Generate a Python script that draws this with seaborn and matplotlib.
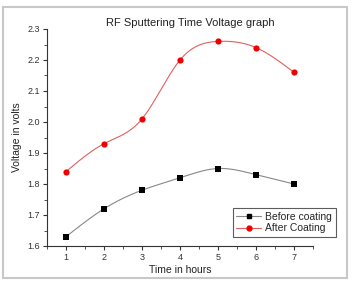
import numpy as np
import pandas as pd
import matplotlib
matplotlib.use("Agg")
import matplotlib.pyplot as plt
import seaborn as sns
from matplotlib.patches import Rectangle
from matplotlib.ticker import MultipleLocator
from matplotlib.lines import Line2D

hours = [1, 2, 3, 4, 5, 6, 7]
before = [1.63, 1.72, 1.78, 1.82, 1.85, 1.83, 1.80]
after = [1.84, 1.93, 2.01, 2.20, 2.26, 2.24, 2.16]

def spline(x, y, n=200):
    x = np.asarray(x, float); y = np.asarray(y, float)
    m = len(x); h = np.diff(x)
    A = np.zeros((m, m)); b = np.zeros(m)
    A[0, 0] = A[-1, -1] = 1
    for i in range(1, m - 1):
        A[i, i - 1] = h[i - 1]; A[i, i] = 2 * (h[i - 1] + h[i]); A[i, i + 1] = h[i]
        b[i] = 6 * ((y[i + 1] - y[i]) / h[i] - (y[i] - y[i - 1]) / h[i - 1])
    M = np.linalg.solve(A, b)
    xs = np.linspace(x[0], x[-1], n); ys = np.empty_like(xs)
    for k, t in enumerate(xs):
        i = min(np.searchsorted(x, t, side="right") - 1, m - 2)
        a, c = x[i], x[i + 1]; hh = c - a
        ys[k] = (M[i] * (c - t) ** 3 / (6 * hh) + M[i + 1] * (t - a) ** 3 / (6 * hh)
                 + (y[i] / hh - M[i] * hh / 6) * (c - t) + (y[i + 1] / hh - M[i + 1] * hh / 6) * (t - a))
    return xs, ys

sns.set_theme(style="ticks")
plt.rcParams["font.family"] = ["Liberation Sans", "DejaVu Sans"]

fig = plt.figure(figsize=(3.52, 2.84), dpi=100)
ax = fig.add_axes([47 / 352, 38 / 284, 266 / 352, 217 / 284])

df = pd.DataFrame({"hours": hours, "before": before, "after": after})

xs, ys = spline(hours, before)
sns.lineplot(x=xs, y=ys, ax=ax, color="#888888", lw=0.8)
xs, ys = spline(hours, after)
sns.lineplot(x=xs, y=ys, ax=ax, color="#e06060", lw=0.8)
sns.scatterplot(data=df, x="hours", y="before", ax=ax, marker="s", color="black", s=16, edgecolor="black", linewidth=0, zorder=5)
sns.scatterplot(data=df, x="hours", y="after", ax=ax, marker="o", color="#ee0000", s=20, edgecolor="#ee0000", linewidth=0, zorder=5)

ax.set_xlim(0.5, 7.5)
ax.set_ylim(1.6, 2.3)
ax.xaxis.set_major_locator(MultipleLocator(1))
ax.xaxis.set_minor_locator(MultipleLocator(0.5))
ax.yaxis.set_major_locator(MultipleLocator(0.1))
ax.yaxis.set_minor_locator(MultipleLocator(0.05))
ax.yaxis.set_major_formatter(matplotlib.ticker.FormatStrFormatter("%.1f"))
ax.tick_params(which="major", length=3, width=0.8, labelsize=6.5, pad=2, colors="#333333")
ax.tick_params(which="minor", length=2, width=0.6, colors="#333333")
for s in ["top", "right"]:
    ax.spines[s].set_visible(False)
for s in ["left", "bottom"]:
    ax.spines[s].set_linewidth(0.8)
    ax.spines[s].set_color("#333333")

ax.set_xlabel("Time in hours", fontsize=7.5, labelpad=2, color="#222222")
ax.set_ylabel("Voltage in volts", fontsize=7.5, labelpad=4, color="#222222")
ax.set_title("RF Sputtering Time Voltage graph", fontsize=8, pad=2, color="#222222", x=0.54)

h1 = Line2D([], [], color="#888888", lw=0.8, marker="s", markersize=3, markerfacecolor="black", markeredgecolor="black")
h2 = Line2D([], [], color="#e06060", lw=0.8, marker="o", markersize=3.5, markerfacecolor="#ee0000", markeredgecolor="#ee0000")
leg = fig.legend([h1, h2], ["Before coating", "After Coating"], loc="lower right",
                 bbox_to_anchor=(336 / 352, 47 / 284), bbox_transform=fig.transFigure,
                 fontsize=7.5, frameon=True, fancybox=False, edgecolor="#333333",
                 handlelength=2.4, handletextpad=0.4, borderpad=0.35, labelspacing=0.15, borderaxespad=0)
leg.get_frame().set_linewidth(0.8)

fig.patches.append(Rectangle((3 / 352, 6 / 284), 344 / 352, 271 / 284, transform=fig.transFigure,
                             fill=False, edgecolor="#c8c8c8", lw=1.5))

fig.savefig("out.png", dpi=100)
